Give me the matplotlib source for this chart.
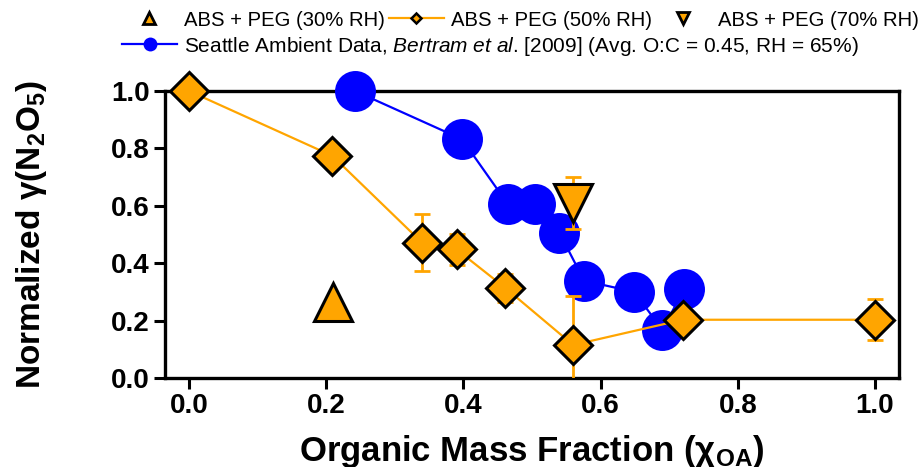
import matplotlib
matplotlib.use("Agg")
import matplotlib.pyplot as plt
from matplotlib.lines import Line2D

plt.rcParams['font.family'] = ['Liberation Sans', 'DejaVu Sans']
plt.rcParams['mathtext.fontset'] = 'custom'
plt.rcParams['mathtext.rm'] = 'Liberation Sans:bold'
plt.rcParams['mathtext.bf'] = 'Liberation Sans:bold'
plt.rcParams['mathtext.it'] = 'Liberation Sans:italic'

# Seattle ambient data (Bertram et al., 2009)
seattle_x = [0.242, 0.398, 0.465, 0.504, 0.540, 0.576, 0.649, 0.690, 0.722]
seattle_y = [1.0, 0.832, 0.605, 0.608, 0.506, 0.339, 0.300, 0.168, 0.310]

# ABS + PEG at 50% RH
peg50_x = [0.0, 0.209, 0.340, 0.390, 0.461, 0.560, 0.720, 1.0]
peg50_y = [1.0, 0.774, 0.471, 0.448, 0.314, 0.115, 0.203, 0.203]
peg50_err = [0.0, 0.0, 0.099, 0.055, 0.050, 0.170, 0.0, 0.072]

# ABS + PEG at 30% RH
peg30_x = [0.21]
peg30_y = [0.264]

# ABS + PEG at 70% RH
peg70_x = [0.56]
peg70_y = [0.61]
peg70_err = [0.09]

xticks = [0.0, 0.2, 0.4, 0.6, 0.8, 1.0]
yticks = [0.0, 0.2, 0.4, 0.6, 0.8, 1.0]

BLUE = '#0000FF'
ORANGE = '#FFA500'

fig = plt.figure(figsize=(9.24, 4.67), dpi=100)
ax = fig.add_axes([165 / 924, 1 - 378 / 467, (899 - 165) / 924, (378 - 91) / 467])

# Seattle series
ax.plot(seattle_x, seattle_y, color=BLUE, lw=1.6, zorder=3)
ax.plot(seattle_x, seattle_y, ls='none', marker='o', ms=29.5, color=BLUE,
        mec='none', zorder=4, clip_on=False)

# ABS + PEG 50% RH series
ax.plot(peg50_x, peg50_y, color=ORANGE, lw=1.6, zorder=5)
ax.errorbar(peg50_x, peg50_y, yerr=peg50_err, fmt='none', ecolor=ORANGE,
            elinewidth=2, capsize=6, capthick=2, zorder=5)
ax.plot(peg50_x, peg50_y, ls='none', marker='D', ms=19, mfc=ORANGE, mec='black',
        mew=2.2, zorder=6, clip_on=False)

# ABS + PEG 30% RH
ax.plot(peg30_x, peg30_y, ls='none', marker='^', ms=27, mfc=ORANGE, mec='black',
        mew=2.2, zorder=6, clip_on=False)

# ABS + PEG 70% RH
ax.errorbar(peg70_x, peg70_y, yerr=peg70_err, fmt='none', ecolor=ORANGE,
            elinewidth=2, capsize=6, capthick=2, zorder=5)
ax.plot(peg70_x, peg70_y, ls='none', marker='v', ms=27, mfc=ORANGE, mec='black',
        mew=2.2, zorder=7, clip_on=False)

ax.set_xlim(-0.035, 1.035)
ax.set_ylim(0.0, 1.0)
ax.set_xticks(xticks)
ax.set_yticks(yticks)
ax.set_xticklabels([f"{v:.1f}" for v in xticks], fontsize=20, fontweight='bold')
ax.set_yticklabels([f"{v:.1f}" for v in yticks], fontsize=20, fontweight='bold')
ax.tick_params(axis='both', direction='out', length=8, width=2.2, pad=3)
for sp in ax.spines.values():
    sp.set_linewidth(2.4)

ax.set_xlabel(r"Organic Mass Fraction (χ$_{\mathrm{OA}}$)", fontsize=25,
              fontweight='bold')
ax.xaxis.set_label_coords(0.5, -0.19)
ax.set_ylabel(r"Normalized γ(N$_{\mathrm{2}}$O$_{\mathrm{5}}$)", fontsize=24,
              fontweight='bold')
ax.yaxis.set_label_coords(-0.158, 0.5)

# Legend rows
h30 = Line2D([], [], ls='none', marker='^', ms=8, mfc=ORANGE, mec='black', mew=2)
h50 = Line2D([], [], color=ORANGE, lw=1.6, marker='D', ms=5.5, mfc=ORANGE,
             mec='black', mew=1.8)
h70 = Line2D([], [], ls='none', marker='v', ms=8, mfc=ORANGE, mec='black', mew=2)
hsea = Line2D([], [], color=BLUE, lw=1.6, marker='o', ms=10, mec='none')

leg1 = fig.legend([h30, h50, h70],
                  ["ABS + PEG (30% RH)", "ABS + PEG (50% RH)", "ABS + PEG (70% RH)"],
                  loc='center left', bbox_to_anchor=(122 / 924, 1 - 20 / 467),
                  ncol=3, frameon=False, fontsize=14.6, handlelength=2.7,
                  handletextpad=0.35, columnspacing=0.2, borderpad=0,
                  borderaxespad=0)
leg2 = fig.legend([hsea],
                  [r"Seattle Ambient Data, $Bertram\ et\ al$. [2009] (Avg. O:C = 0.45, RH = 65%)"],
                  loc='center left', bbox_to_anchor=(122 / 924, 1 - 46 / 467),
                  frameon=False, fontsize=15, handlelength=2.65,
                  handletextpad=0.35, borderpad=0, borderaxespad=0)

fig.savefig("out.png", dpi=100)
